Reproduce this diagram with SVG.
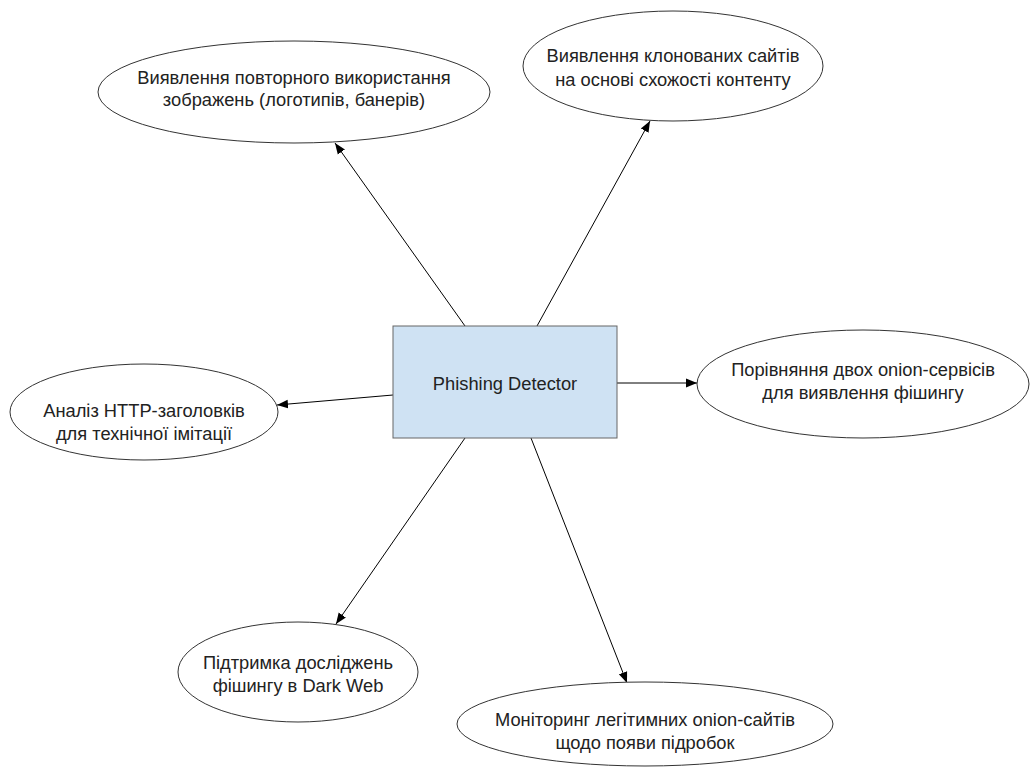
<svg xmlns="http://www.w3.org/2000/svg" width="1030" height="767" viewBox="0 0 1030 767">
<defs>
<style>
.node ellipse{fill:#fff;stroke:#333;stroke-width:1}
.box{fill:#cfe2f3;stroke:#666;stroke-width:1}
text{font-family:"Liberation Sans",Arial,sans-serif;font-size:18.3px;fill:#222;text-anchor:middle}
.conn line{stroke:#000;stroke-width:1;marker-end:url(#ah)}
</style>
<marker id="ah" viewBox="0 0 10 10" refX="10" refY="5" markerWidth="11" markerHeight="11" markerUnits="userSpaceOnUse" orient="auto">
<path d="M0,1 L10,5 L0,9 Z" fill="#000"/>
</marker>
</defs>
<rect width="1030" height="767" fill="#fff"/>
<g id="connectors" class="conn">
<line x1="465" y1="326" x2="335" y2="143"/>
<line x1="537" y1="326" x2="650" y2="121"/>
<line x1="393" y1="395" x2="277" y2="405"/>
<line x1="617" y1="383" x2="697" y2="383"/>
<line x1="465" y1="438" x2="336" y2="624"/>
<line x1="531" y1="438" x2="627" y2="683"/>
</g>
<g id="center" class="node">
<rect class="box" x="393" y="326" width="224" height="112"/>
<text x="505" y="389.5">Phishing Detector</text>
</g>
<g id="n1" class="node">
<ellipse cx="294" cy="92" rx="196" ry="51"/>
<text x="294" y="84">Виявлення повторного використання</text>
<text x="294" y="106">зображень (логотипів, банерів)</text>
</g>
<g id="n2" class="node">
<ellipse cx="673" cy="66" rx="150" ry="55"/>
<text x="673" y="62">Виявлення клонованих сайтів</text>
<text x="673" y="85.5">на основі схожості контенту</text>
</g>
<g id="n3" class="node">
<ellipse cx="144" cy="412" rx="134" ry="48"/>
<text x="144" y="417">Аналіз HTTP-заголовків</text>
<text x="144" y="439.5">для технічної імітації</text>
</g>
<g id="n4" class="node">
<ellipse cx="863" cy="384" rx="166" ry="54"/>
<text x="863" y="375.5">Порівняння двох onion-сервісів</text>
<text x="863" y="398.5">для виявлення фішингу</text>
</g>
<g id="n5" class="node">
<ellipse cx="298" cy="672" rx="120" ry="50"/>
<text x="298" y="668.5">Підтримка досліджень</text>
<text x="298" y="691.5">фішингу в Dark Web</text>
</g>
<g id="n6" class="node">
<ellipse cx="645" cy="724" rx="188" ry="42"/>
<text x="645" y="725.5">Моніторинг легітимних onion-сайтів</text>
<text x="645" y="748.5">щодо появи підробок</text>
</g>
</svg>
